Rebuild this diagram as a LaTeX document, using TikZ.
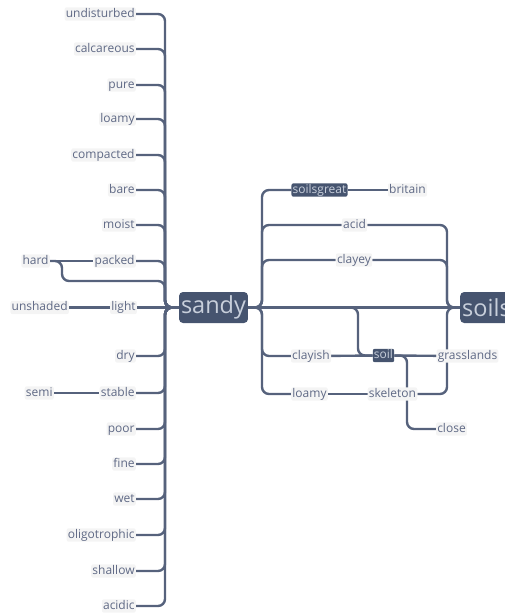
\documentclass[tikz,border=0pt]{standalone}
\usepackage{fontspec}
\setmainfont{Open Sans}
\usetikzlibrary{backgrounds}

\definecolor{linkc}{HTML}{56627C}
\definecolor{hubc}{HTML}{46546F}
\definecolor{hubtxt}{HTML}{C8CFDB}
\definecolor{wordc}{HTML}{5F6985}
\definecolor{wordbg}{HTML}{F4F4F4}

\tikzset{
  word/.style={fill=wordbg, text=wordc, rounded corners=2pt, inner xsep=1.2pt, inner ysep=1pt,
    text height=8.8pt, text depth=2.6pt, font=\fontsize{12}{13}\selectfont},
  hub/.style={word, fill=hubc, text=hubtxt},
  bighub/.style={fill=hubc, text=hubtxt, rounded corners=4pt, inner xsep=2pt, inner ysep=0pt,
    minimum height=31pt, font=\fontsize{23.5}{24}\selectfont},
  link/.style={draw=linkc, line width=2.4pt, rounded corners=7pt},
}

\begin{document}
\begin{tikzpicture}[x=1pt, y=-1pt]
    \useasboundingbox (0,0) rectangle (504,615);

    \node[bighub] (sandy) at (213.5,307.5) {sandy};
    \node[bighub, anchor=west] (soils) at (460,307.5) {soils};
    \coordinate (trunkL) at (165,307.5);
    \coordinate (trunkR) at (262,307.5);
    \coordinate (trunkS) at (447,307.5);

    % left column
    \node[word, anchor=east] (undisturbed) at (136,14) {undisturbed};
    \node[word, anchor=east] (calcareous) at (136,49) {calcareous};
    \node[word, anchor=east] (pure) at (136,85) {pure};
    \node[word, anchor=east] (loamyL) at (136,119) {loamy};
    \node[word, anchor=east] (compacted) at (136,155) {compacted};
    \node[word, anchor=east] (bare) at (136,190) {bare};
    \node[word, anchor=east] (moist) at (136,225) {moist};
    \node[word, anchor=east] (packed) at (136,261) {packed};
    \node[word, anchor=east] (hard) at (50,261) {hard};
    \node[word, anchor=east] (light) at (137,307.5) {light};
    \node[word, anchor=east] (unshaded) at (69,307.5) {unshaded};
    \node[word, anchor=east] (dry) at (136,356) {dry};
    \node[word, anchor=east] (stable) at (136,393) {stable};
    \node[word, anchor=east] (semi) at (54,393) {semi};
    \node[word, anchor=east] (poor) at (136,429) {poor};
    \node[word, anchor=east] (fine) at (136,464) {fine};
    \node[word, anchor=east] (wet) at (136,499) {wet};
    \node[word, anchor=east] (oligotrophic) at (136,535) {oligotrophic};
    \node[word, anchor=east] (shallow) at (136,571) {shallow};
    \node[word, anchor=east] (acidic) at (136,606) {acidic};
    \coordinate (hardbend) at (62,281);

    % right side
    \node[hub] (soilsgreat) at (319.5,190) {soilsgreat};
    \node[word] (britain) at (407.5,190) {britain};
    \node[word] (acid) at (354.5,225) {acid};
    \node[word] (clayey) at (354,260) {clayey};
    \node[word] (clayish) at (311,356) {clayish};
    \node[hub] (soil) at (383.5,355.5) {soil};
    \node[word] (grasslands) at (467.5,356) {grasslands};
    \node[word] (loamyR) at (309.5,394) {loamy};
    \node[word] (skeleton) at (392.5,394) {skeleton};
    \node[word] (close) at (451.5,429) {close};
    \coordinate (soilbend) at (358,355.5);
    \coordinate (closebend) at (407,392);

    \begin{scope}[on background layer]
        \foreach \w in {undisturbed, calcareous, pure, loamyL, compacted, bare, moist, packed,
                        dry, stable, poor, fine, wet, oligotrophic, shallow, acidic}
            \draw[link] (\w) -| (trunkL) -- (sandy);
        \draw[link] (light) -- (sandy);
        \draw[link] (hard) -- (packed);
        \draw[link] (hard) -| (hardbend) -| (trunkL) -- (sandy);
        \draw[link] (unshaded) -- (light);
        \draw[link] (semi) -- (stable);

        \foreach \w in {soilsgreat, acid, clayey, clayish, loamyR}
            \draw[link] (sandy) -- (trunkR) |- (\w);
        \draw[link] (soilsgreat) -- (britain);
        \draw[link] (sandy) -- (soils);
        \draw[link] (acid) -| (trunkS) -- (soils);
        \draw[link] (clayey) -| (trunkS) -- (soils);
        \draw[link] (skeleton) -| (trunkS) -- (soils);
        \draw[link] (sandy) -| (soilbend) -- (soil);
        \draw[link] (clayish) -- (soil);
        \draw[link] (soil) -- (grasslands);
        \draw[link] (soil) -| (closebend) |- (close);
        \draw[link] (loamyR) -- (skeleton);
    \end{scope}
\end{tikzpicture}
\end{document}
